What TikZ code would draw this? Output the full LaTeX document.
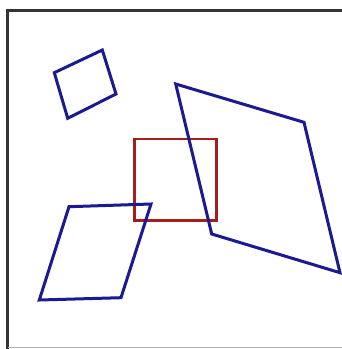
\documentclass[tikz,border=0pt]{standalone}
\usepackage{tikz}
\usetikzlibrary{calc}

\definecolor{quadblue}{RGB}{28,26,145}
\definecolor{boxred}{RGB}{165,30,30}

\begin{document}
\begin{tikzpicture}[x=1pt,y=-1pt]
\tikzstyle{quad}=[line width=3pt,quadblue,line join=miter]
\tikzstyle{window}=[line width=2.7pt,boxred]

	\useasboundingbox (0,0) rectangle (342,349);
	\fill[white] (0,0) rectangle (342,349);

	% frame
	\draw [line width=3pt,black!80]  plot[] coordinates { (7.5,349) (7.5,10.5) (342,10.5) };
	\draw [line width=1.5pt,black!30]  plot[] coordinates { (7.5,347.5) (342,347.5) };

	% clipping window
	\draw [window] (134.3,139) rectangle (216.7,220.7);

	% polygons
	\draw [quad]  plot[] coordinates { (54.3,72.7) (102.3,50) (116,94) (67.7,118.3) } -- cycle;

	\draw [quad]  plot[] coordinates { (175.7,84) (304,122.3) (340,272.7) (211.7,234) } -- cycle;

	\draw [quad]  plot[] coordinates { (69,206.7) (151,204) (121,297.7) (39.3,300) } -- cycle;

\end{tikzpicture}
\end{document}
